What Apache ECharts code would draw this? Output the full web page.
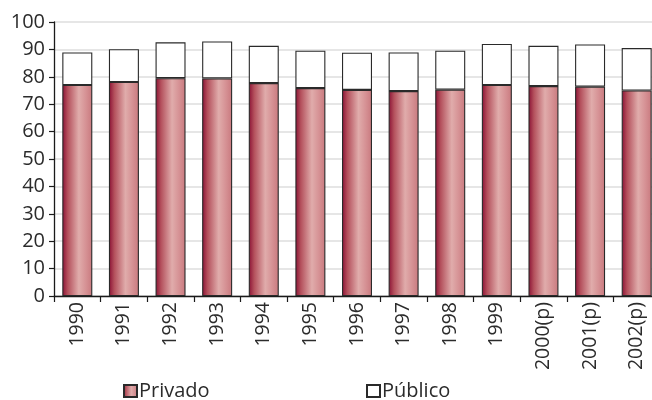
<!DOCTYPE html>
<html>
<head>
<meta charset="utf-8">
<script src="https://cdn.jsdelivr.net/npm/echarts@6/dist/echarts.min.js"></script>
<style>
  html, body { margin: 0; padding: 0; background: #fff; }
  #chart { width: 652px; height: 400px; }
</style>
</head>
<body>
<div id="chart"></div>
<script>
// Years (p = provisional)
const years = ['1990', '1991', '1992', '1993', '1994', '1995', '1996', '1997', '1998', '1999', '2000(p)', '2001(p)', '2002(p)'];
// Private share
const privado = [77.0, 78.1, 79.5, 79.4, 77.7, 75.9, 75.2, 74.8, 75.3, 77.0, 76.6, 76.4, 75.0];
// Public share (stacked above private)
const publico = [11.9, 12.0, 13.1, 13.5, 13.6, 13.6, 13.6, 14.1, 14.2, 15.0, 14.7, 15.4, 15.5];
// Y axis ticks
const yMin = 0, yMax = 100, yStep = 10;

const FONT = '"Open Sans", sans-serif';
const TXT = '#2b2b2b';

const redGradient = new echarts.graphic.LinearGradient(0, 0, 1, 0, [
  { offset: 0.0, color: '#8a1034' },
  { offset: 0.18, color: '#b4505c' },
  { offset: 0.55, color: '#e0acab' },
  { offset: 0.78, color: '#d69295' },
  { offset: 1.0, color: '#c9797e' }
]);

const chart = echarts.init(document.getElementById('chart'), null, { renderer: 'canvas' });
chart.setOption({
  animation: false,
  backgroundColor: '#ffffff',
  textStyle: { fontFamily: FONT, color: TXT },
  grid: {
    left: 54, top: 22, right: -8, bottom: 104,
    containLabel: false, outerBoundsMode: 'none'
  },
  legend: [
    {
      data: ['Privado'], left: 118, top: 376, icon: 'rect',
      itemWidth: 13, itemHeight: 12, itemGap: 4,
      textStyle: { fontFamily: FONT, fontSize: 20, color: TXT, padding: [0, 0, 0, -3] }
    },
    {
      data: ['Público'], left: 361, top: 376, icon: 'rect',
      itemWidth: 13, itemHeight: 12, itemGap: 4,
      textStyle: { fontFamily: FONT, fontSize: 20, color: TXT, padding: [0, 0, 0, -3] }
    }
  ],
  xAxis: {
    type: 'category',
    data: years,
    axisLine: { lineStyle: { color: '#1a1a1a', width: 1.3 } },
    axisTick: { show: true, length: 6, lineStyle: { color: '#1a1a1a', width: 1.2 } },
    axisLabel: { rotate: 90, fontFamily: FONT, fontSize: 19.5, color: TXT, margin: 6 }
  },
  yAxis: {
    type: 'value',
    min: yMin, max: yMax, interval: yStep,
    axisLine: { show: true, lineStyle: { color: '#1a1a1a', width: 1.3 } },
    axisTick: { show: true, length: 5, lineStyle: { color: '#1a1a1a', width: 1.2 } },
    axisLabel: { fontFamily: FONT, fontSize: 20, color: TXT, margin: 9 },
    splitLine: { lineStyle: { color: '#dedede', width: 1.5 } }
  },
  series: [
    {
      name: 'Privado', type: 'bar', stack: 'total', data: privado,
      barWidth: 30,
      itemStyle: { color: redGradient, borderColor: '#2a2a2a', borderWidth: 1.1 }
    },
    {
      name: 'Público', type: 'bar', stack: 'total', data: publico,
      barWidth: 30,
      itemStyle: { color: '#ffffff', borderColor: '#2a2a2a', borderWidth: 1.1 }
    }
  ]
});
</script>
</body>
</html>
